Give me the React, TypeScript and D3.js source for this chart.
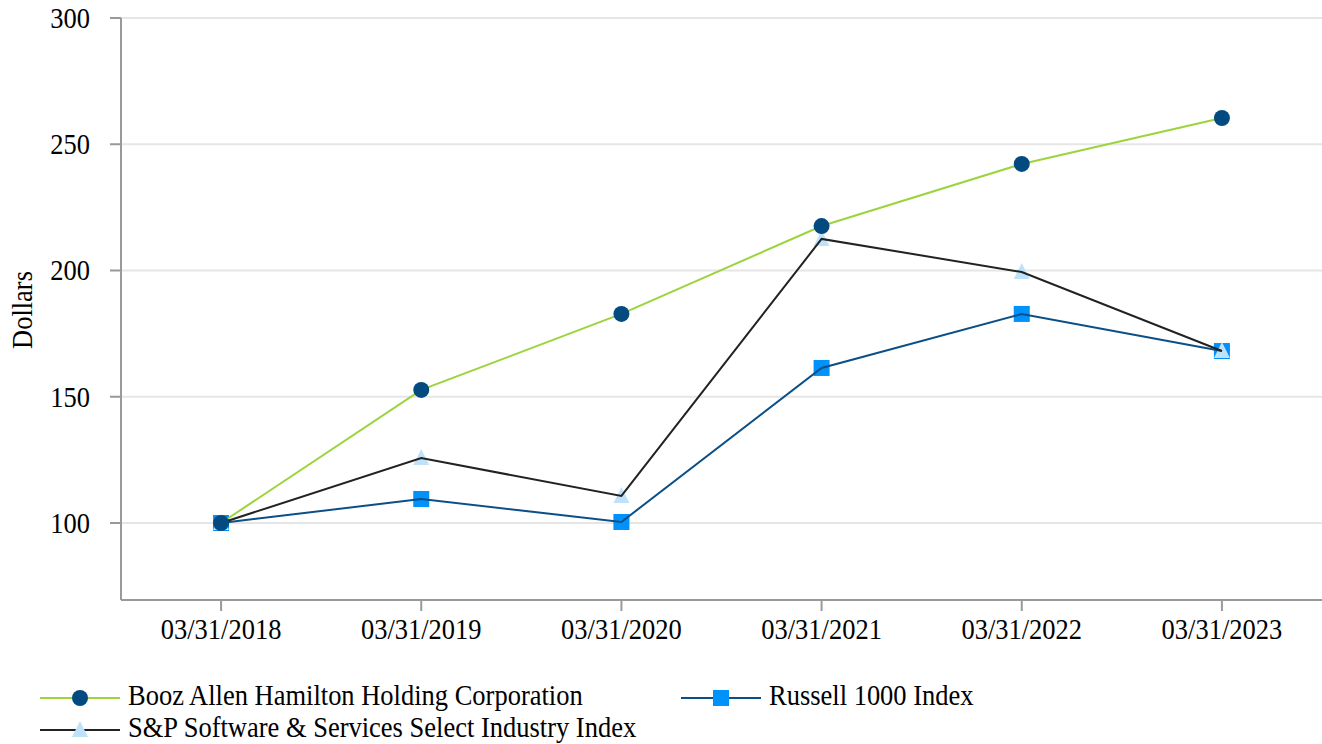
import React from "react";
import * as d3 from "d3";

const categories = ["03/31/2018", "03/31/2019", "03/31/2020", "03/31/2021", "03/31/2022", "03/31/2023"];
const boozValues = [100, 152.7, 182.8, 217.6, 242.2, 260.4];
const russellValues = [100, 109.5, 100.4, 161.4, 182.8, 168.1];
const spValues = [100, 125.7, 110.7, 212.5, 199.4, 168.1];
const yTicks = [100, 150, 200, 250, 300];

const W = 1322, H = 744;
const left = 121, right = 1322, top = 18, bottom = 600;
const FONT = "'Liberation Serif', 'Times New Roman', serif";
const FS = 26.5;
const SY = 1.12;

const series = [
  { name: "Booz Allen Hamilton Holding Corporation", values: boozValues, line: "#9BD43C", fill: "#024A7F", marker: "circle" },
  { name: "Russell 1000 Index", values: russellValues, line: "#0B4F86", fill: "#0091FA", marker: "square" },
  { name: "S&P Software & Services Select Industry Index", values: spValues, line: "#222222", fill: "#BFE2FB", marker: "triangle" },
];

function Marker({ type, x, y, fill }: { type: string; x: number; y: number; fill: string }) {
  if (type === "circle") return <circle cx={x} cy={y} r={8} fill={fill} />;
  if (type === "square") return <rect x={x - 8} y={y - 8} width={16} height={16} fill={fill} />;
  return <path d={`M${x},${y - 9}L${x + 8},${y + 7}L${x - 8},${y + 7}Z`} fill={fill} />;
}

function T({ x, y, anchor = "start", rotate = 0, children }: { x: number; y: number; anchor?: string; rotate?: number; children: React.ReactNode }) {
  return (
    <text transform={`translate(${x},${y}) rotate(${rotate}) scale(1,${SY})`} textAnchor={anchor} fontSize={FS} fill="#000">
      {children}
    </text>
  );
}

export default function App() {
  const x = d3.scaleBand<string>().domain(categories).range([left, right]);
  const y = d3.scaleLinear().domain([69.5, 300]).range([bottom, top]);
  const cx = (c: string) => (x(c) as number) + x.bandwidth() / 2;
  const line = d3.line<number>().x((_, i) => cx(categories[i])).y((v) => y(v));

  const legend = [
    { s: series[0], lx: 40, ly: 698 },
    { s: series[1], lx: 681, ly: 698 },
    { s: series[2], lx: 40, ly: 730 },
  ];

  return (
    <svg width={W} height={H} style={{ position: "absolute", left: 0, top: 0, background: "#fff" }} fontFamily={FONT}>
      {yTicks.map((t) => (
        <g key={t}>
          <line x1={left} x2={right} y1={y(t)} y2={y(t)} stroke="#e6e6e6" strokeWidth={2} />
          <line x1={110} x2={left} y1={y(t)} y2={y(t)} stroke="#999" strokeWidth={2} />
          <T x={90} y={y(t) + 10} anchor="end">{t}</T>
        </g>
      ))}
      <line x1={left} x2={left} y1={top} y2={bottom} stroke="#999" strokeWidth={2} />
      <line x1={left} x2={right} y1={bottom} y2={bottom} stroke="#999" strokeWidth={2} />
      {categories.map((c) => (
        <g key={c}>
          <line x1={cx(c)} x2={cx(c)} y1={bottom} y2={611} stroke="#999" strokeWidth={2} />
          <T x={cx(c)} y={639} anchor="middle">{c}</T>
        </g>
      ))}
      <T x={32} y={310} anchor="middle" rotate={-90}>Dollars</T>

      {series.filter((s) => s.marker !== "circle").map((s) => (
        <g key={s.name + "m"}>
          {s.values.map((v, i) => <Marker key={i} type={s.marker} x={cx(categories[i])} y={y(v)} fill={s.fill} />)}
        </g>
      ))}
      {series.map((s) => (
        <path key={s.name + "l"} d={line(s.values) || ""} fill="none" stroke={s.line} strokeWidth={2} />
      ))}
      {series.filter((s) => s.marker === "circle").map((s) => (
        <g key={s.name + "m"}>
          {s.values.map((v, i) => <Marker key={i} type={s.marker} x={cx(categories[i])} y={y(v)} fill={s.fill} />)}
        </g>
      ))}

      {legend.map(({ s, lx, ly }) => (
        <g key={s.name + "lg"}>
          <line x1={lx} x2={lx + 80} y1={ly} y2={ly} stroke={s.line} strokeWidth={2} />
          <Marker type={s.marker} x={lx + 40} y={ly} fill={s.fill} />
          <T x={lx + 88} y={ly + 7}>{s.name}</T>
        </g>
      ))}
    </svg>
  );
}
